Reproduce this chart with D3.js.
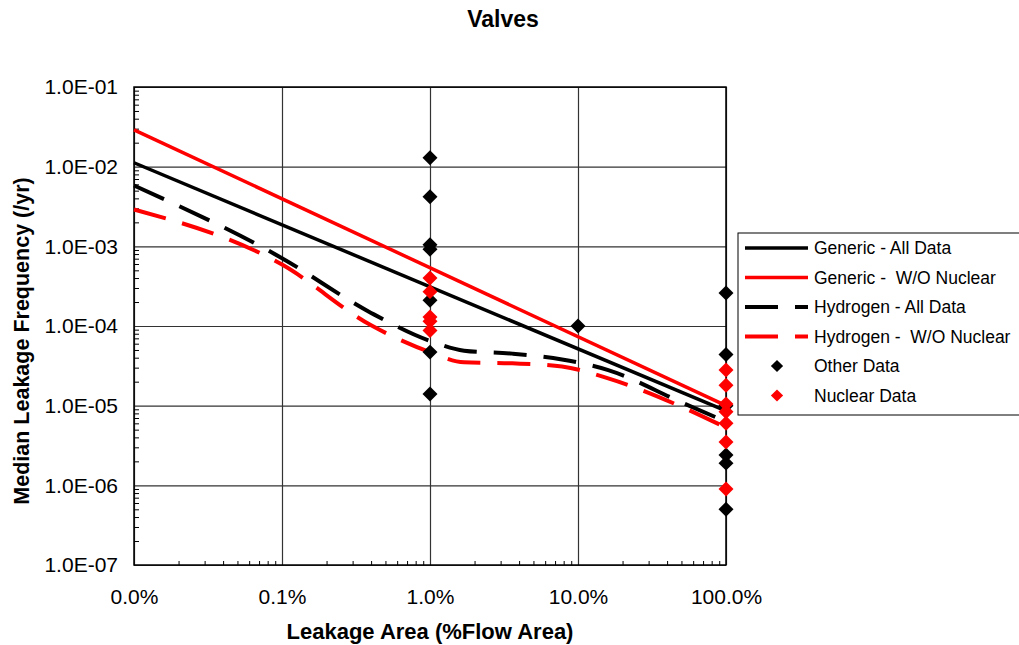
<!DOCTYPE html>
<html>
<head>
<meta charset="utf-8">
<script src="https://cdn.jsdelivr.net/npm/d3@7"></script>
<style>
  body { margin: 0; background: #fff; }
  svg { font-family: "Liberation Sans", Arial, sans-serif; }
  .grid line { stroke: #333; stroke-width: 1.2px; }
  .grid path { display: none; }
  .minor path { display: none; }
  .minor line { stroke: #000; stroke-width: 1px; }
  .lbl path, .lbl line { display: none; }
  .lbl text { font-size: 21px; fill: #000; font-family: "Liberation Sans", Arial, sans-serif; }
  .legend text { white-space: pre; }
</style>
</head>
<body>
<svg id="chart" width="1019" height="645"></svg>
<script>
// tick values and labels
let xTicks = [0.01, 0.1, 1, 10, 100];
let xLabels = ["0.0%", "0.1%", "1.0%", "10.0%", "100.0%"];
let yTicks = [1e-7, 1e-6, 1e-5, 1e-4, 1e-3, 1e-2, 1e-1];
let yLabels = ["1.0E-07", "1.0E-06", "1.0E-05", "1.0E-04", "1.0E-03", "1.0E-02", "1.0E-01"];

// curves: [leak area %, frequency /yr]
let genericAll = [[0.01, 1.12e-2], [100, 8.6e-6]];
let genericNoNuc = [[0.01, 2.9e-2], [100, 1.0e-5]];
let hydrogenAll = [[0.01, 5.8e-3], [0.1, 7.1e-4], [0.4, 1.46e-4], [1, 6.5e-5], [1.7, 4.9e-5],
                   [3.6, 4.5e-5], [7.8, 3.8e-5], [16, 2.8e-5], [50, 1.1e-5], [100, 6.3e-6]];
let hydrogenNoNuc = [[0.01, 2.9e-3], [0.1, 5.9e-4], [0.4, 1.02e-4], [1, 4.7e-5], [1.7, 3.5e-5],
                     [3.6, 3.4e-5], [7.8, 3.1e-5], [16, 2.2e-5], [50, 9.7e-6], [100, 5.3e-6]];

// data points
let otherData = [[1, 1.29e-2], [1, 4.2e-3], [1, 1.05e-3], [1, 9.2e-4], [1, 2.1e-4], [1, 4.7e-5], [1, 1.4e-5],
                 [10, 1.0e-4],
                 [100, 2.6e-4], [100, 4.4e-5], [100, 1.0e-5], [100, 2.4e-6], [100, 1.9e-6], [100, 5.0e-7]];
let nuclearData = [[1, 4.0e-4], [1, 2.7e-4], [1, 1.3e-4], [1, 1.15e-4], [1, 8.8e-5],
                   [100, 2.8e-5], [100, 1.8e-5], [100, 1.05e-5], [100, 8.4e-6], [100, 6.0e-6], [100, 3.5e-6], [100, 9.0e-7]];

let legendItems = [
  {name: "Generic - All Data", color: "#000", dash: null, type: "line"},
  {name: "Generic -  W/O Nuclear", color: "#f00", dash: null, type: "line"},
  {name: "Hydrogen - All Data", color: "#000", dash: "33,17", type: "line"},
  {name: "Hydrogen -  W/O Nuclear", color: "#f00", dash: "33,17", type: "line"},
  {name: "Other Data", color: "#000", type: "point"},
  {name: "Nuclear Data", color: "#f00", type: "point"}
];

let margin = {top: 87, left: 134},
  width = 592,
  height = 478;

let svg = d3.select("#chart");
let g = svg.append("g")
  .attr("transform", "translate(" + margin.left + "," + margin.top + ")");

let x = d3.scaleLog().domain([0.01, 100]).range([0, width]);
let y = d3.scaleLog().domain([1e-7, 1e-1]).range([height, 0]);

// minor ticks
let xMinor = [], yMinor = [];
xTicks.slice(0, -1).forEach(t => { for (let k = 2; k < 10; k++) xMinor.push(t * k); });
yTicks.slice(0, -1).forEach(t => { for (let k = 2; k < 10; k++) yMinor.push(t * k); });

// gridlines
g.append("g").attr("class", "grid")
  .call(d3.axisLeft(y).tickValues(yTicks).tickSize(-width).tickFormat(""));
g.append("g").attr("class", "grid")
  .attr("transform", "translate(0," + height + ")")
  .call(d3.axisBottom(x).tickValues(xTicks).tickSize(-height).tickFormat(""));

g.append("g").attr("class", "minor")
  .attr("transform", "translate(0," + height + ")")
  .call(d3.axisBottom(x).tickValues(xMinor).tickSize(-4).tickFormat(""));
g.append("g").attr("class", "minor")
  .call(d3.axisLeft(y).tickValues(yMinor).tickSize(-5).tickFormat(""));

// frame
g.append("rect")
  .attr("width", width).attr("height", height)
  .attr("fill", "none").attr("stroke", "#000").attr("stroke-width", 1.5);

// tick labels
g.append("g").attr("class", "lbl")
  .attr("transform", "translate(0," + height + ")")
  .call(d3.axisBottom(x).tickValues(xTicks).tickSize(0).tickPadding(24)
        .tickFormat((d, i) => xLabels[i]));
g.append("g").attr("class", "lbl")
  .call(d3.axisLeft(y).tickValues(yTicks).tickSize(0).tickPadding(16)
        .tickFormat((d, i) => yLabels[i]));

// lines
let line = d3.line()
  .x(function(d){ return x(d[0]); })
  .y(function(d){ return y(d[1]); })
  .curve(d3.curveMonotoneX);

let series = [
  {data: hydrogenAll, color: "#000", dash: "33,17"},
  {data: hydrogenNoNuc, color: "#f00", dash: "33,17"},
  {data: genericAll, color: "#000", dash: null},
  {data: genericNoNuc, color: "#f00", dash: null}
];
series.forEach(s => {
  g.append("path")
    .datum(s.data)
    .attr("d", line)
    .attr("fill", "none")
    .attr("stroke", s.color)
    .attr("stroke-width", s.dash ? 4 : 3.5)
    .attr("stroke-dasharray", s.dash);
});

// points
let diamond = d3.symbol().type(d3.symbolSquare).size(112);
function drawPoints(data, color) {
  g.selectAll(null)
    .data(data)
    .enter()
    .append("path")
    .attr("d", diamond)
    .attr("transform", d => "translate(" + x(d[0]) + "," + y(d[1]) + ") rotate(45)")
    .attr("fill", color);
}
drawPoints(otherData, "#000");
drawPoints(nuclearData, "#f00");

// titles
svg.append("text")
  .attr("x", 503).attr("y", 27)
  .attr("text-anchor", "middle")
  .style("font-size", "23px").style("font-weight", "bold")
  .text("Valves");

svg.append("text")
  .attr("x", margin.left + width / 2).attr("y", 639)
  .attr("text-anchor", "middle")
  .style("font-size", "22px").style("font-weight", "bold")
  .text("Leakage Area (%Flow Area)");

svg.append("text")
  .attr("transform", "translate(29,341) rotate(-90)")
  .attr("text-anchor", "middle")
  .style("font-size", "21.5px").style("font-weight", "bold")
  .text("Median Leakage Frequency (/yr)");

// legend
let legend = svg.append("g").attr("class", "legend").attr("transform", "translate(738,233)");
legend.append("rect")
  .attr("width", 300).attr("height", 182)
  .attr("fill", "#fff").attr("stroke", "#000").attr("stroke-width", 1);

let rows = legend.selectAll("g.row")
  .data(legendItems)
  .enter()
  .append("g")
  .attr("class", "row")
  .attr("transform", (d, i) => "translate(0," + (15 + i * 29.5) + ")");

rows.filter(d => d.type === "line").append("line")
  .attr("x1", 7).attr("x2", 70)
  .attr("stroke", d => d.color)
  .attr("stroke-width", d => d.dash ? 4 : 3.5)
  .attr("stroke-dasharray", d => d.dash);

rows.filter(d => d.type === "point").append("path")
  .attr("d", d3.symbol().type(d3.symbolSquare).size(75))
  .attr("transform", "translate(39,0) rotate(45)")
  .attr("fill", d => d.color);

rows.append("text")
  .attr("x", 76).attr("dy", "0.35em")
  .style("font-size", "17.5px")
  .text(d => d.name);
</script>
</body>
</html>
